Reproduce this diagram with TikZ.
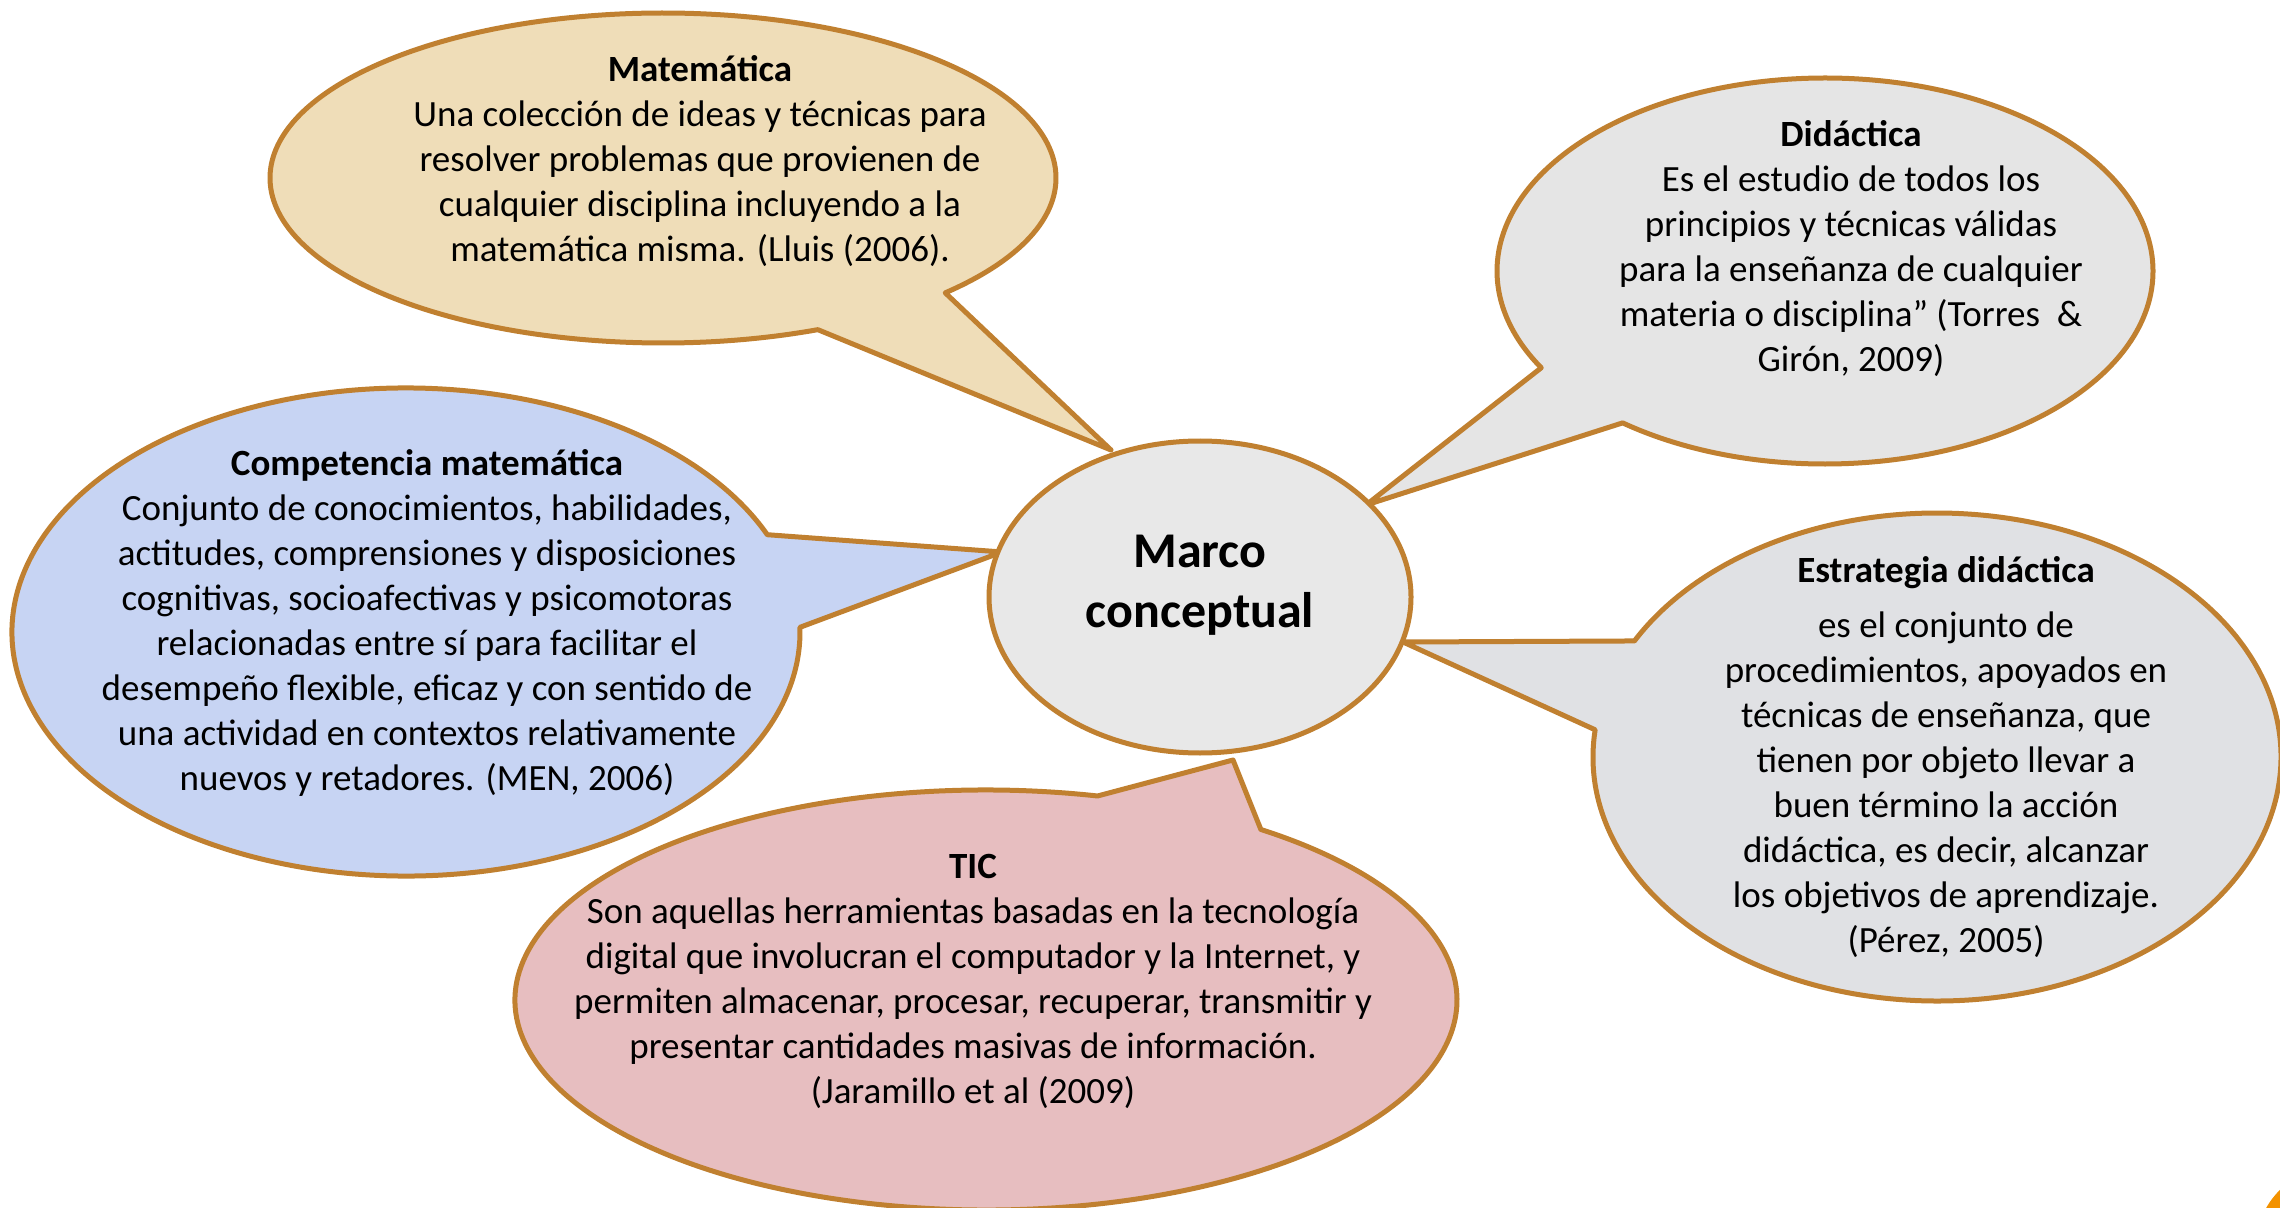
\documentclass[tikz,border=0pt]{standalone}
\usepackage{fontspec}
\setmainfont{Carlito}
\usetikzlibrary{calc,shapes.geometric}
\definecolor{edge}{RGB}{192,128,48}
\definecolor{matfill}{RGB}{239,221,184}
\definecolor{didfill}{RGB}{229,229,229}
\definecolor{compfill}{RGB}{199,212,243}
\definecolor{estfill}{RGB}{224,225,228}
\definecolor{ticfill}{RGB}{231,190,192}
\definecolor{cenfill}{RGB}{232,232,232}
\definecolor{orangec}{RGB}{243,146,0}
\newcommand{\topS}{\rule{0pt}{1em}}
\newcommand{\botS}{\rule[-1em]{0pt}{1em}}
\begin{document}
\begin{tikzpicture}[x=0.5pt,y=-0.5pt,
  bub/.style={draw=edge, line width=2.5pt, line join=round},
  txt/.style={align=center, inner sep=0pt, font=\fontsize{18.5}{22.5}\selectfont},
]
\useasboundingbox (0,0) rectangle (2280,1208);
\fill[white] (0,0) rectangle (2280,1208);

% centres and tail tips
\coordinate (cM) at (663,178);  \coordinate (tM) at (1111,450);
\coordinate (cD) at (1825,271); \coordinate (tD) at (1366,505);
\coordinate (cC) at (406,632);  \coordinate (tC) at (1002,552);
\coordinate (cE) at (1937,757); \coordinate (tE) at (1403,642);
\coordinate (cT) at (986,1000); \coordinate (tT) at (1233,760);

% Matemática bubble
\path[bub, fill=matfill] (tM) -- ($(cM)+(-44.1:196.5pt and 82.5pt)$)
  arc[start angle=-44.1, end angle=293.2, x radius=196.5pt, y radius=82.5pt] -- cycle;
% Didáctica bubble
\path[bub, fill=didfill] (tD) -- ($(cD)+(231.9:164pt and 96.5pt)$)
  arc[start angle=231.9, end angle=570.1, x radius=164pt, y radius=96.5pt] -- cycle;
% Competencia bubble
\path[bub, fill=compfill] (tC) -- ($(cC)+(23.5:197pt and 122pt)$)
  arc[start angle=23.5, end angle=361.1, x radius=197pt, y radius=122pt] -- cycle;
% Estrategia bubble
\path[bub, fill=estfill] (tE) -- ($(cE)+(173.6:172pt and 122pt)$)
  arc[start angle=173.6, end angle=511.6, x radius=172pt, y radius=122pt] -- cycle;
% TIC bubble
\path[bub, fill=ticfill] (tT) -- ($(cT)+(76.3:235.5pt and 105pt)$)
  arc[start angle=76.3, end angle=414.3, x radius=235.5pt, y radius=105pt] -- cycle;

% central ellipse
\node[ellipse, draw=edge, line width=2.5pt, fill=cenfill, inner sep=0pt,
  minimum width=211pt, minimum height=156pt,
  font=\fontsize{25}{30}\selectfont\bfseries, align=center] (marco) at (1200,597)
  {\topS Marco\\conceptual\botS};

% texts
\node[txt] (matT) at (700,172) {\topS\textbf{Matemática}\\
Una colección de ideas y técnicas para\\
resolver problemas que provienen de\\
cualquier disciplina incluyendo a la\\
matemática misma. (Lluis (2006).\botS};

\node[txt] (didT) at (1851,259) {\topS\textbf{Didáctica}\\
Es el estudio de todos los\\
principios y técnicas válidas\\
para la enseñanza de cualquier\\
materia o disciplina” (Torres~ \&\\
Girón, 2009)\botS};

\node[txt] (compT) at (427,632.5) {\topS\textbf{Competencia matemática}\\
Conjunto de conocimientos, habilidades,\\
actitudes, comprensiones y disposiciones\\
cognitivas, socioafectivas y psicomotoras\\
relacionadas entre sí para facilitar el\\
desempeño flexible, eficaz y con sentido de\\
una actividad en contextos relativamente\\
nuevos y retadores. (MEN, 2006)\botS};

\node[txt] (estT) at (1946,767) {\topS\textbf{Estrategia didáctica}\\[5pt]
es el conjunto de\\
procedimientos, apoyados en\\
técnicas de enseñanza, que\\
tienen por objeto llevar a\\
buen término la acción\\
didáctica, es decir, alcanzar\\
los objetivos de aprendizaje.\\
(Pérez, 2005)\botS};

\node[txt] (ticT) at (973,990.5) {\topS\textbf{TIC}\\
Son aquellas herramientas basadas en la tecnología\\
digital que involucran el computador y la Internet, y\\
permiten almacenar, procesar, recuperar, transmitir y\\
presentar cantidades masivas de información.\\
(Jaramillo et al (2009)\botS};

% orange corner mark
\fill[orangec] (2340,1250) circle[radius=42.5pt];
\end{tikzpicture}
\end{document}
